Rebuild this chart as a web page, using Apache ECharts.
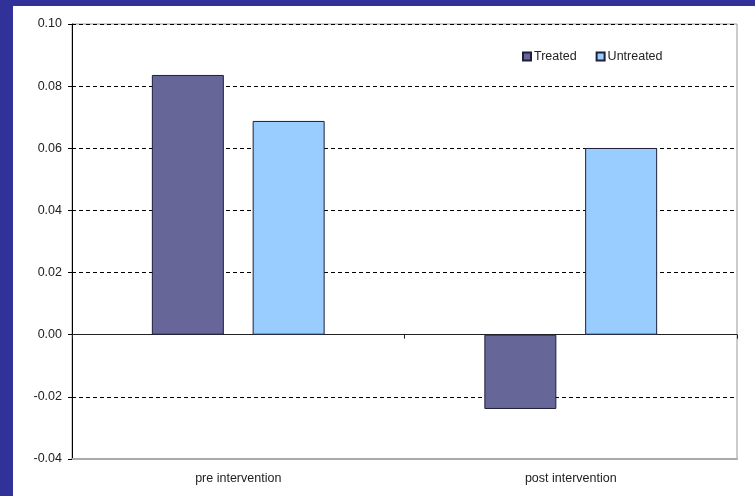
<!DOCTYPE html>
<html>
<head>
<meta charset="utf-8">
<script src="https://cdn.jsdelivr.net/npm/echarts@6/dist/echarts.min.js"></script>
<style>
html,body{margin:0;padding:0;background:#31319a;width:755px;height:496px;overflow:hidden;}
#frame{position:absolute;left:13px;top:6px;width:742px;height:490px;background:#fff;}
#chart{position:absolute;left:0;top:0;width:755px;height:496px;}
</style>
</head>
<body>
<div id="frame"></div>
<div id="chart"></div>
<script>
const categories = ['pre intervention', 'post intervention'];
const treated = [0.0836, -0.0239];
const untreated = [0.0688, 0.0601];
const seriesNames = ['Treated', 'Untreated'];

const chart = echarts.init(document.getElementById('chart'));
const font = 'Liberation Sans, Arial, sans-serif';
chart.setOption({
  backgroundColor: 'transparent',
  animation: false,
  grid: {left: 72, right: 18, top: 24, bottom: 37, show: true, borderColor: '#999', borderWidth: 1},
  legend: {
    data: seriesNames, left: 522, top: 50, padding: 0, icon: 'rect', itemWidth: 8, itemHeight: 8, itemGap: 19,
    textStyle: {fontFamily: font, fontSize: 12.5, color: '#222', padding: [0, 0, 0, -2]}
  },
  xAxis: [{
    type: 'category', data: categories, position: 'bottom',
    axisLine: {onZero: false, lineStyle: {color: '#aaa', width: 2}},
    axisTick: {show: false},
    axisLabel: {margin: 13, fontFamily: font, fontSize: 12.5, color: '#222'},
    splitLine: {show: false}
  }, {
    type: 'category', data: categories, position: 'bottom',
    axisLine: {onZero: true, lineStyle: {color: '#222', width: 1}},
    axisTick: {show: true, length: 4, lineStyle: {color: '#222'}},
    axisLabel: {show: false},
    splitLine: {show: false}
  }],
  yAxis: {
    type: 'value', min: -0.04, max: 0.10, interval: 0.02,
    axisLine: {show: true, onZero: false, lineStyle: {color: '#000', width: 1}},
    axisTick: {show: true, length: 4, lineStyle: {color: '#000'}},
    axisLabel: {margin: 10, fontFamily: font, fontSize: 12.5, color: '#222', formatter: v => v.toFixed(2)},
    splitLine: {show: true, lineStyle: {color: '#000', type: [4, 3], width: 1}}
  },
  series: [{
    name: seriesNames[0], type: 'bar', data: treated, barWidth: 72, barGap: '40%',
    itemStyle: {color: '#666699', borderColor: '#1f1f3a', borderWidth: 1}
  }, {
    name: seriesNames[1], type: 'bar', data: untreated, barWidth: 72, barGap: '40%',
    itemStyle: {color: '#99ccff', borderColor: '#1f1f3a', borderWidth: 1}
  }]
});
</script>
</body>
</html>
